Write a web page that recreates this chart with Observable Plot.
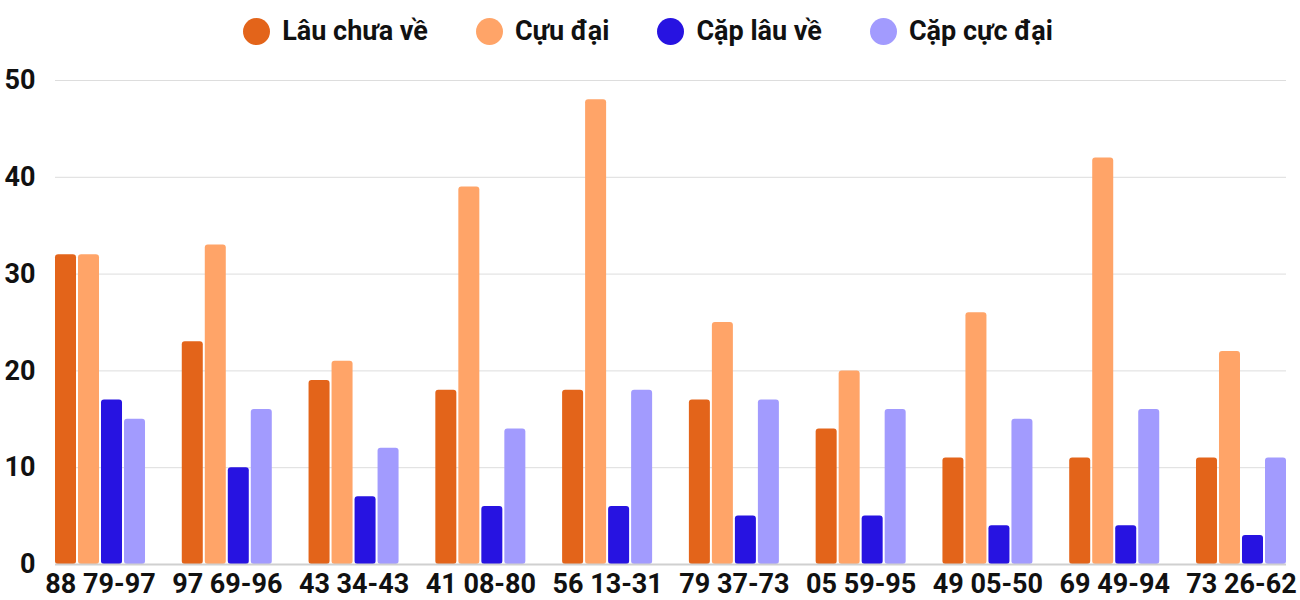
<!DOCTYPE html>
<html>
<head>
<meta charset="utf-8">
<script src="https://cdn.jsdelivr.net/npm/d3@7"></script>
<script src="https://cdn.jsdelivr.net/npm/@observablehq/plot@0.6"></script>
<style>
  body { margin: 0; background: #fff; font-family: Roboto, sans-serif; }
  #legend { height: 62px; display: flex; align-items: center; justify-content: center; font-weight: bold; font-size: 27px; color: #111; padding-right: 4px; }
  .item { display: flex; align-items: center; margin: 0 24px; }
  .sw { width: 27px; height: 27px; border-radius: 50%; margin-right: 12px; }
</style>
</head>
<body>
<div id="legend"></div>
<div id="chart"></div>
<script>
const categories = ["88 79-97","97 69-96","43 34-43","41 08-80","56 13-31","79 37-73","05 59-95","49 05-50","69 49-94","73 26-62"];
const seriesNames = ["Lâu chưa về","Cựu đại","Cặp lâu về","Cặp cực đại"];
const seriesColors = ["#E3641A","#FFA468","#2713E1","#A29BFE"];
const lauChuaVe = [32,23,19,18,18,17,14,11,11,11];
const cuuDai    = [32,33,21,39,48,25,20,26,42,22];
const capLauVe  = [17,10,7,6,6,5,5,4,4,3];
const capCucDai = [15,16,12,14,18,17,16,15,16,11];
const yTicks = [0,10,20,30,40,50];

const seriesValues = [lauChuaVe, cuuDai, capLauVe, capCucDai];

const legend = document.getElementById("legend");
seriesNames.forEach((n, j) => {
  const it = document.createElement("div");
  it.className = "item";
  it.innerHTML = `<span class="sw" style="background:${seriesColors[j]}"></span><span>${n}</span>`;
  legend.appendChild(it);
});

// bar layout within each category band (band ≈ 90px): 4 bars of ~21px with 2px gaps
const W = 1300, mL = 55, mR = 14, pad = 0.29;
const bandwidth = (W - mL - mR) / (categories.length - pad) * (1 - pad);
const gap = 2;
const barW = (bandwidth - gap * 3) / 4;

const barMarks = seriesValues.map((vals, j) => {
  const rows = categories.map((c, i) => ({cat: c, series: seriesNames[j], value: vals[i]}));
  const left = j * (barW + gap);
  return Plot.barY(rows, {
    x: "cat", y: "value", fill: seriesColors[j], rx: 3,
    insetLeft: left, insetRight: bandwidth - left - barW
  });
});

const chart = Plot.plot({
  width: W,
  height: 538,
  marginLeft: mL,
  marginRight: mR,
  marginTop: 18,
  marginBottom: 36,
  style: {fontFamily: "Roboto, sans-serif", fontSize: "27px", fontWeight: "bold", color: "#111"},
  x: {domain: categories, paddingInner: pad, paddingOuter: 0, round: false, label: null},
  y: {domain: [0, 50], label: null},
  marks: [
    Plot.ruleY(yTicks.slice(1), {stroke: "#dddddd", strokeWidth: 1}),
    ...barMarks,
    Plot.ruleY([0], {stroke: "#d0d0d0", strokeWidth: 2}),
    Plot.axisY({ticks: yTicks, tickSize: 0, tickPadding: 20, label: null, fontSize: 27, fontWeight: "bold", fill: "#111"}),
    Plot.axisX({tickSize: 0, tickPadding: 9, label: null, fontSize: 27, fontWeight: "bold", fill: "#111"})
  ]
});
document.getElementById("chart").appendChild(chart);
</script>
</body>
</html>
